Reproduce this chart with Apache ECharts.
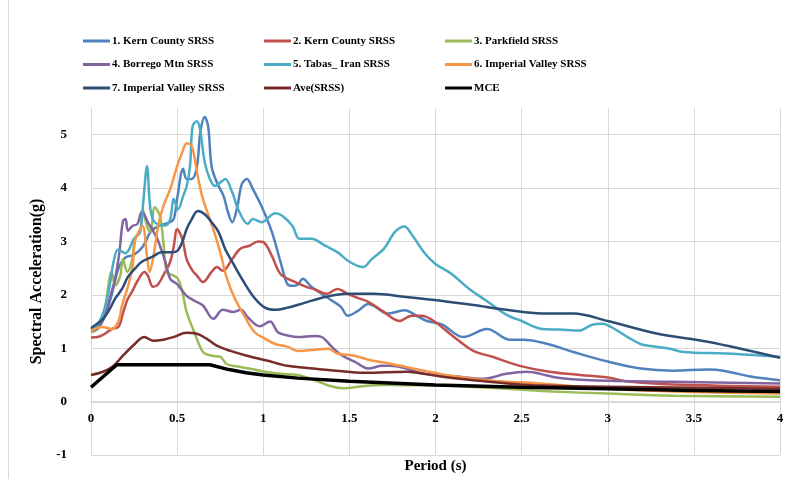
<!DOCTYPE html>
<html>
<head>
<meta charset="utf-8">
<script src="https://cdn.jsdelivr.net/npm/echarts@6/dist/echarts.min.js"></script>
<style>html,body{margin:0;padding:0;background:#fff}#c{width:792px;height:479px}</style>
</head>
<body>
<div id="c"></div>
<script>
var seriesNames = ['1. Kern County SRSS','2. Kern County SRSS','3. Parkfield SRSS','4. Borrego Mtn SRSS','5. Tabas_ Iran SRSS','6. Imperial Valley SRSS','7. Imperial Valley SRSS','Ave(SRSS)','MCE'];
var xTicks = [0,0.5,1,1.5,2,2.5,3,3.5,4];
var yTicks = [-1,0,1,2,3,4,5];

var kern1 = [[0,1.35],[0.04,1.4],[0.08,1.6],[0.12,2.0],[0.16,2.5],[0.2,2.7],[0.25,2.75],[0.3,2.9],[0.35,3.2],[0.4,3.3],[0.45,3.35],[0.48,3.42],[0.5,3.8],[0.535,4.36],[0.555,4.17],[0.585,4.17],[0.615,4.41],[0.635,5.05],[0.66,5.33],[0.68,5.16],[0.7,4.41],[0.73,4.11],[0.77,3.85],[0.795,3.55],[0.82,3.36],[0.85,3.66],[0.875,4.07],[0.905,4.17],[0.94,3.98],[0.99,3.66],[1.05,3.18],[1.1,2.62],[1.14,2.2],[1.17,2.17],[1.2,2.19],[1.23,2.3],[1.28,2.15],[1.38,1.93],[1.45,1.78],[1.49,1.61],[1.55,1.7],[1.61,1.83],[1.65,1.78],[1.72,1.65],[1.82,1.71],[1.9,1.59],[1.95,1.51],[2.04,1.44],[2.16,1.21],[2.3,1.36],[2.43,1.16],[2.51,1.16],[2.65,1.08],[2.8,0.93],[3.0,0.75],[3.19,0.62],[3.38,0.58],[3.58,0.6],[3.67,0.58],[3.83,0.47],[4.0,0.4]];
var kern2 = [[0,1.2],[0.05,1.22],[0.08,1.27],[0.12,1.36],[0.16,1.4],[0.185,1.65],[0.21,1.9],[0.24,2.07],[0.27,2.26],[0.31,2.43],[0.33,2.36],[0.36,2.15],[0.39,2.2],[0.43,2.43],[0.46,2.62],[0.48,2.9],[0.5,3.23],[0.53,3.05],[0.555,2.67],[0.59,2.45],[0.615,2.36],[0.65,2.24],[0.7,2.43],[0.73,2.52],[0.765,2.45],[0.82,2.67],[0.865,2.86],[0.92,2.92],[0.97,3.0],[1.0,2.99],[1.05,2.73],[1.1,2.39],[1.17,2.26],[1.25,2.15],[1.3,2.1],[1.37,2.02],[1.43,2.11],[1.49,2.02],[1.56,1.93],[1.61,1.87],[1.7,1.68],[1.79,1.51],[1.86,1.61],[1.92,1.61],[1.99,1.51],[2.1,1.23],[2.22,0.95],[2.33,0.84],[2.49,0.67],[2.66,0.56],[2.84,0.5],[3.0,0.45],[3.13,0.37],[3.38,0.32],[4.0,0.28]];
var parkfield = [[0,1.3],[0.04,1.36],[0.07,1.6],[0.09,1.93],[0.11,2.36],[0.12,2.43],[0.14,2.17],[0.17,2.36],[0.185,2.67],[0.21,2.43],[0.24,2.67],[0.255,3.05],[0.285,3.18],[0.3,3.6],[0.325,3.29],[0.345,3.18],[0.37,3.64],[0.4,3.48],[0.42,2.99],[0.44,2.43],[0.48,2.36],[0.505,2.3],[0.53,2.06],[0.555,1.68],[0.6,1.3],[0.65,0.93],[0.7,0.86],[0.75,0.84],[0.79,0.7],[0.865,0.65],[0.95,0.6],[1.01,0.56],[1.1,0.52],[1.2,0.5],[1.3,0.4],[1.38,0.3],[1.46,0.25],[1.58,0.29],[1.7,0.31],[2.03,0.3],[2.41,0.24],[2.68,0.19],[3.0,0.15],[3.38,0.11],[4.0,0.09]];
var borrego = [[0,1.33],[0.04,1.38],[0.08,1.6],[0.11,1.95],[0.14,2.3],[0.165,2.8],[0.185,3.38],[0.2,3.42],[0.215,3.2],[0.24,3.29],[0.27,3.33],[0.295,3.55],[0.31,3.5],[0.33,3.36],[0.355,3.23],[0.385,3.05],[0.4,2.92],[0.43,2.64],[0.46,2.3],[0.5,2.2],[0.52,2.12],[0.555,1.98],[0.6,1.89],[0.65,1.8],[0.71,1.55],[0.765,1.72],[0.825,1.68],[0.87,1.72],[0.91,1.58],[0.98,1.41],[1.04,1.5],[1.085,1.3],[1.155,1.23],[1.2,1.21],[1.3,1.23],[1.34,1.21],[1.4,1.02],[1.46,0.86],[1.53,0.75],[1.61,0.62],[1.69,0.67],[1.74,0.67],[1.83,0.62],[1.93,0.52],[2.12,0.47],[2.28,0.43],[2.41,0.52],[2.53,0.56],[2.61,0.52],[2.7,0.45],[2.9,0.4],[3.38,0.37],[4.0,0.34]];
var tabas = [[0,1.35],[0.04,1.45],[0.08,1.75],[0.11,2.2],[0.13,2.6],[0.157,2.85],[0.2,2.78],[0.25,3.05],[0.285,3.18],[0.305,3.8],[0.325,4.41],[0.345,3.6],[0.37,3.36],[0.43,3.3],[0.46,3.42],[0.48,3.8],[0.505,3.6],[0.535,3.85],[0.555,4.03],[0.575,4.41],[0.59,5.16],[0.615,5.25],[0.633,5.1],[0.66,4.49],[0.69,4.17],[0.72,4.04],[0.76,4.13],[0.78,4.17],[0.82,3.92],[0.855,3.6],[0.91,3.33],[0.94,3.42],[0.99,3.36],[1.07,3.53],[1.11,3.48],[1.17,3.29],[1.21,3.05],[1.28,3.05],[1.36,2.92],[1.43,2.8],[1.5,2.62],[1.58,2.52],[1.63,2.67],[1.7,2.86],[1.765,3.18],[1.82,3.28],[1.86,3.14],[1.94,2.77],[2.0,2.58],[2.09,2.4],[2.2,2.1],[2.3,1.88],[2.41,1.63],[2.5,1.51],[2.62,1.36],[2.72,1.35],[2.83,1.33],[2.91,1.44],[2.97,1.46],[3.04,1.36],[3.12,1.2],[3.19,1.08],[3.25,1.04],[3.36,0.99],[3.44,0.93],[3.69,0.9],[4.0,0.84]];
var imperial6 = [[0,1.33],[0.065,1.4],[0.12,1.36],[0.16,1.51],[0.18,1.8],[0.21,2.11],[0.24,2.5],[0.255,3.0],[0.285,3.23],[0.3,3.29],[0.325,2.73],[0.34,2.43],[0.36,2.67],[0.39,3.29],[0.42,3.66],[0.46,3.98],[0.5,4.41],[0.53,4.67],[0.555,4.84],[0.585,4.79],[0.615,4.3],[0.645,3.85],[0.67,3.6],[0.71,3.23],[0.75,2.8],[0.79,2.3],[0.835,1.93],[0.89,1.61],[0.95,1.3],[1.01,1.18],[1.07,1.08],[1.14,1.03],[1.2,0.95],[1.3,0.97],[1.38,0.99],[1.43,0.9],[1.53,0.86],[1.63,0.77],[1.74,0.71],[1.93,0.58],[2.12,0.47],[2.33,0.39],[2.61,0.34],[3.0,0.24],[3.38,0.19],[4.0,0.15]];
var imperial7 = [[0,1.38],[0.07,1.55],[0.11,1.74],[0.14,1.93],[0.18,2.11],[0.215,2.34],[0.255,2.49],[0.295,2.62],[0.355,2.71],[0.41,2.8],[0.47,2.8],[0.5,2.82],[0.53,2.99],[0.555,3.23],[0.585,3.42],[0.62,3.57],[0.66,3.51],[0.7,3.36],[0.74,3.18],[0.78,2.85],[0.82,2.62],[0.865,2.36],[0.94,1.98],[1.01,1.76],[1.07,1.72],[1.14,1.76],[1.24,1.85],[1.36,1.96],[1.49,2.02],[1.64,2.02],[1.83,1.96],[2.03,1.89],[2.22,1.81],[2.41,1.72],[2.65,1.65],[2.8,1.65],[3.0,1.51],[3.29,1.27],[3.58,1.12],[4.0,0.82]];
var aveSrss = [[0,0.5],[0.07,0.56],[0.13,0.67],[0.185,0.86],[0.245,1.05],[0.31,1.21],[0.36,1.14],[0.42,1.16],[0.48,1.21],[0.555,1.29],[0.615,1.27],[0.67,1.18],[0.73,1.05],[0.81,0.95],[0.905,0.86],[1.02,0.77],[1.14,0.67],[1.29,0.62],[1.49,0.56],[1.6,0.54],[1.83,0.56],[2.03,0.47],[2.22,0.4],[2.61,0.3],[3.0,0.28],[4.0,0.24]];
var mce = [[0,0.27],[0.15,0.69],[0.69,0.69],[0.8,0.6],[0.9,0.54],[1.0,0.5],[1.2,0.44],[1.5,0.38],[2.0,0.31],[2.5,0.27],[3.0,0.24],[3.5,0.21],[4.0,0.19]];

var allData = [kern1,kern2,parkfield,borrego,tabas,imperial6,imperial7,aveSrss,mce];
var colors = ['#4F81BD','#C0504D','#9BBB59','#8064A2','#4BACC6','#F79646','#2C4D75','#772C2A','#000000'];
var font = '"Liberation Serif","Times New Roman",serif';

var series = allData.map(function(d,i){
  return {
    name: seriesNames[i], type:'line', data:d, showSymbol:false, symbol:'none',
    smooth: i===8 ? false : 0.35,
    lineStyle:{color:colors[i], width: i===8 ? 3.5 : 2.5},
    itemStyle:{color:colors[i]},
    z: 2+i
  };
});

function legendCol(left, idx){
  return {
    orient:'vertical', left:left, top:29, itemWidth:27, itemHeight:3, itemGap:9.5,
    icon:'rect', selectedMode:false,
    textStyle:{fontFamily:font, fontWeight:'bold', fontSize:11, color:'#000', lineHeight:14, padding:[0,0,0,-3]},
    data: idx.map(function(k){return seriesNames[k];})
  };
}

var chart = echarts.init(document.getElementById('c'), null, {renderer:'canvas'});
chart.setOption({
  animation:false,
  color:colors,
  legend:[legendCol(78,[0,3,6]), legendCol(259,[1,4,7]), legendCol(440,[2,5,8])],
  grid:{left:91, right:12, top:108, bottom:24, containLabel:false, outerBoundsMode:'none'},
  xAxis:{
    type:'value', min:xTicks[0], max:xTicks[xTicks.length-1], interval:0.5,
    position:'bottom', offset:-53,
    name:'Period (s)', nameLocation:'middle', nameGap:57,
    nameTextStyle:{fontFamily:font, fontWeight:'bold', fontSize:15, color:'#000', verticalAlign:'top'},
    axisLine:{show:true, onZero:false, lineStyle:{color:'#D9D9D9', width:1}},
    axisTick:{show:false},
    axisLabel:{fontFamily:font, fontWeight:'bold', fontSize:13, color:'#000', margin:10},
    splitLine:{show:true, lineStyle:{color:'#D9D9D9', width:1}}
  },
  yAxis:{
    type:'value', min:yTicks[0], max:5.5, interval:1,
    name:'Spectral Acceleration(g)', nameLocation:'middle', nameGap:35, nameRotate:90,
    nameTextStyle:{fontFamily:font, fontWeight:'bold', fontSize:16, color:'#000'},
    axisLine:{show:true, lineStyle:{color:'#D9D9D9', width:1}},
    axisTick:{show:false},
    axisLabel:{fontFamily:font, fontWeight:'bold', fontSize:13, color:'#000', margin:24,
      formatter:function(v){ return yTicks.indexOf(v)>=0 ? String(v) : ''; }},
    splitLine:{show:true, showMaxLine:false, lineStyle:{color:'#D9D9D9', width:1}}
  },
  graphic:[{type:'line', shape:{x1:8.5,y1:0,x2:8.5,y2:479}, style:{stroke:'#D9D9D9', lineWidth:1}, silent:true}],
  series:series
});
</script>
</body>
</html>
